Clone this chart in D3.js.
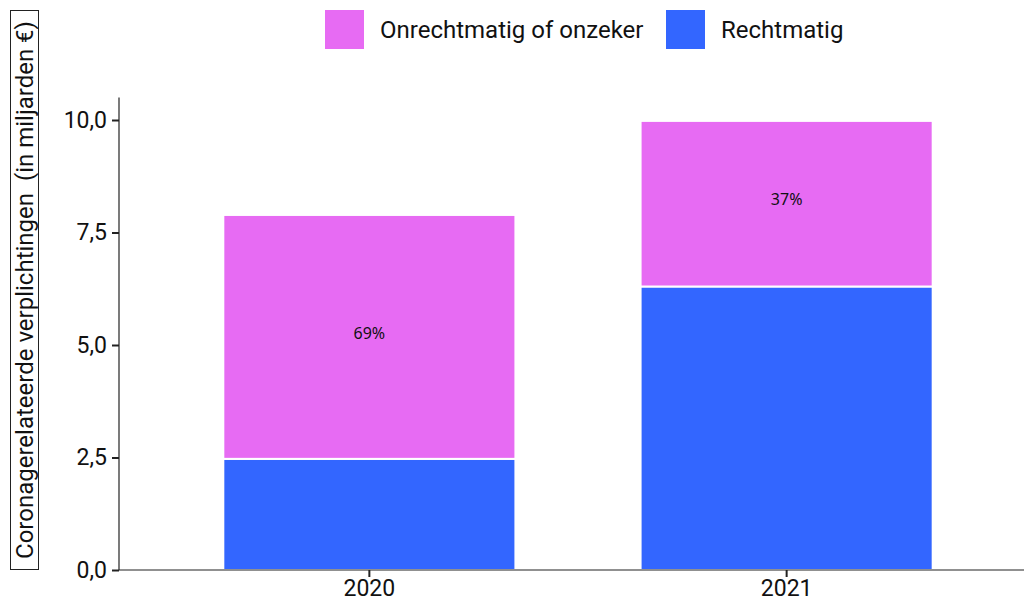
<!DOCTYPE html>
<html>
<head>
<meta charset="utf-8">
<script src="https://cdn.jsdelivr.net/npm/d3@7"></script>
<style>
  body { margin: 0; background: #fff; }
  svg { display: block; font-family: Roboto, "Noto Sans", sans-serif; }
</style>
</head>
<body>
<div class="chart"></div>
<script>
// data (miljarden euro)
var years = ["2020", "2021"];
var rechtmatig = [2.47, 6.30];
var onzeker = [5.42, 3.68];
var series = ["Onrechtmatig of onzeker", "Rechtmatig"];
var colors = ["#E76BF3", "#3366FF"];
var yTicks = [0, 2.5, 5, 7.5, 10];

var svgWidth = 1024, svgHeight = 605;
var margin = {top: 97.5, left: 119, bottom: 35};

var svg = d3.select(".chart").append("svg")
    .attr("width", svgWidth)
    .attr("height", svgHeight);

// scales
var x = d3.scaleBand()
    .domain(years)
    .range([margin.left, 1037])
    .paddingInner(0.3)
    .paddingOuter(0.25);

var y = d3.scaleLinear()
    .domain([0, 10.5])
    .range([svgHeight - margin.bottom, margin.top]);

var rows = years.map(function(yr, i) {
    return {year: yr, rechtmatig: rechtmatig[i], onzeker: onzeker[i]};
});

var stack = d3.stack().keys(["rechtmatig", "onzeker"]);
var layers = stack(rows);

// bars
svg.append("g").selectAll("g")
    .data(layers)
    .enter().append("g")
    .attr("fill", function(d) { return d.key === "rechtmatig" ? colors[1] : colors[0]; })
    .selectAll("rect")
    .data(function(d) { return d; })
    .enter().append("rect")
    .attr("x", function(d) { return x(d.data.year); })
    .attr("width", x.bandwidth())
    .attr("y", function(d) { return y(d[1]); })
    .attr("height", function(d) { return y(d[0]) - y(d[1]); })
    .attr("stroke", "#fff")
    .attr("stroke-width", 2);

// percentage labels in the top segment
svg.append("g").selectAll("text")
    .data(layers[1])
    .enter().append("text")
    .attr("x", function(d) { return x(d.data.year) + x.bandwidth() / 2; })
    .attr("y", function(d) { return y((d[0] + d[1]) / 2); })
    .attr("dy", "0.1em")
    .attr("text-anchor", "middle")
    .style("font-family", "'Noto Sans', sans-serif")
    .style("font-size", "16px")
    .attr("fill", "#111")
    .text(function(d) {
        return Math.round(100 * d.data.onzeker / (d.data.onzeker + d.data.rechtmatig)) + "%";
    });

// axes
var fmt = function(v) { return d3.format(".1f")(v).replace(".", ","); };

var yAxis = svg.append("g")
    .attr("transform", "translate(" + margin.left + ",0)")
    .call(d3.axisLeft(y).tickValues(yTicks).tickFormat(fmt).tickSize(7).tickPadding(5));

var xAxis = svg.append("g")
    .attr("transform", "translate(0," + y(0) + ")")
    .call(d3.axisBottom(x).tickSize(7).tickPadding(3));

[yAxis, xAxis].forEach(function(ax) {
    ax.select(".domain").attr("stroke", "#222").attr("stroke-width", 1.2);
    ax.selectAll(".tick line").attr("stroke", "#222").attr("stroke-width", 2);
    ax.selectAll(".tick text")
        .attr("fill", "#111")
        .style("font-family", "Roboto, sans-serif")
        .style("font-size", "23px");
});
xAxis.select(".domain").attr("d", "M" + margin.left + ",0H1037");
yAxis.select(".domain").attr("d", "M0," + y(10.5) + "V" + y(0));

// y title in a box
svg.append("rect")
    .attr("x", 10.5).attr("y", 10.5)
    .attr("width", 28).attr("height", 559)
    .attr("fill", "none")
    .attr("stroke", "#222")
    .attr("stroke-width", 1);

svg.append("text")
    .attr("transform", "translate(24.5," + 290 + ") rotate(-90)")
    .attr("text-anchor", "middle")
    .attr("dominant-baseline", "central")
    .attr("fill", "#111")
    .style("font-size", "24px")
    .style("white-space", "pre")
    .text("Coronagerelateerde verplichtingen  (in miljarden €)");

// legend
var legendItems = [
    {label: series[0], color: colors[0], x: 325},
    {label: series[1], color: colors[1], x: 666}
];
var legend = svg.append("g").selectAll("g")
    .data(legendItems)
    .enter().append("g")
    .attr("transform", function(d) { return "translate(" + d.x + ",10)"; });

legend.append("rect")
    .attr("width", 39).attr("height", 39)
    .attr("fill", function(d) { return d.color; });

legend.append("text")
    .attr("x", 55).attr("y", 28)
    .attr("fill", "#111")
    .style("font-size", "24px")
    .text(function(d) { return d.label; });
</script>
</body>
</html>
